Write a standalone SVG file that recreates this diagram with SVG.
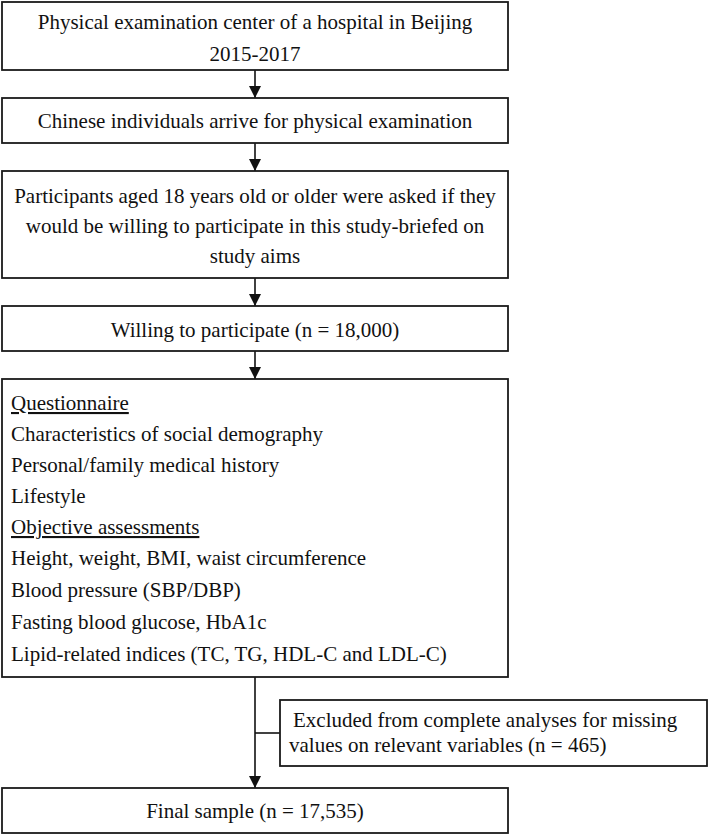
<svg xmlns="http://www.w3.org/2000/svg" width="709" height="835" viewBox="0 0 709 835">
<style>
.box{fill:#fff;stroke:#1a1a1a;stroke-width:1.8}
.t{font-family:"Liberation Serif","Times New Roman",serif;font-size:21px;fill:#111}
.c{text-anchor:middle}
.u{text-decoration:underline}
.conn{stroke:#111;stroke-width:1.6;fill:none}
</style>
<defs>
<marker id="ah" viewBox="0 0 12 12" refX="12" refY="6" markerWidth="12" markerHeight="12" markerUnits="userSpaceOnUse" orient="auto">
<path d="M0,0 L12,6 L0,12 z" fill="#111"/>
</marker>
</defs>
<rect width="709" height="835" fill="#fff"/>
<g id="connectors">
<line class="conn" x1="255" y1="70" x2="255" y2="98" marker-end="url(#ah)"/>
<line class="conn" x1="255" y1="143" x2="255" y2="171" marker-end="url(#ah)"/>
<line class="conn" x1="255" y1="278" x2="255" y2="306" marker-end="url(#ah)"/>
<line class="conn" x1="255" y1="351" x2="255" y2="379" marker-end="url(#ah)"/>
<line class="conn" x1="255" y1="677" x2="255" y2="788" marker-end="url(#ah)"/>
<line class="conn" x1="255" y1="733" x2="280" y2="733"/>
</g>
<g id="n1">
<rect class="box" x="2" y="2" width="506" height="68"/>
<text class="t c" x="255" y="29">Physical examination center of a hospital in Beijing</text>
<text class="t c" x="255" y="61">2015-2017</text>
</g>
<g id="n2">
<rect class="box" x="2" y="98" width="506" height="45"/>
<text class="t c" x="255" y="128">Chinese individuals arrive for physical examination</text>
</g>
<g id="n3">
<rect class="box" x="2" y="171" width="506" height="107"/>
<text class="t c" x="255" y="203">Participants aged 18 years old or older were asked if they</text>
<text class="t c" x="255" y="233">would be willing to participate in this study-briefed on</text>
<text class="t c" x="255" y="263">study aims</text>
</g>
<g id="n4">
<rect class="box" x="2" y="306" width="506" height="45"/>
<text class="t c" x="255" y="337">Willing to participate (n = 18,000)</text>
</g>
<g id="n5">
<rect class="box" x="2" y="379" width="506" height="298"/>
<text class="t u" x="11" y="410">Questionnaire</text>
<text class="t" x="11" y="441">Characteristics of social demography</text>
<text class="t" x="11" y="472">Personal/family medical history</text>
<text class="t" x="11" y="503">Lifestyle</text>
<text class="t u" x="11" y="534">Objective assessments</text>
<text class="t" x="11" y="565">Height, weight, BMI, waist circumference</text>
<text class="t" x="11" y="597">Blood pressure (SBP/DBP)</text>
<text class="t" x="11" y="629">Fasting blood glucose, HbA1c</text>
<text class="t" x="11" y="661">Lipid-related indices (TC, TG, HDL-C and LDL-C)</text>
</g>
<g id="n6">
<rect class="box" x="280" y="700" width="427" height="66"/>
<text class="t" x="293" y="727">Excluded from complete analyses for missing</text>
<text class="t" x="289" y="752">values on relevant variables (n = 465)</text>
</g>
<g id="n7">
<rect class="box" x="2" y="788" width="506" height="45"/>
<text class="t c" x="255" y="818">Final sample (n = 17,535)</text>
</g>
</svg>
